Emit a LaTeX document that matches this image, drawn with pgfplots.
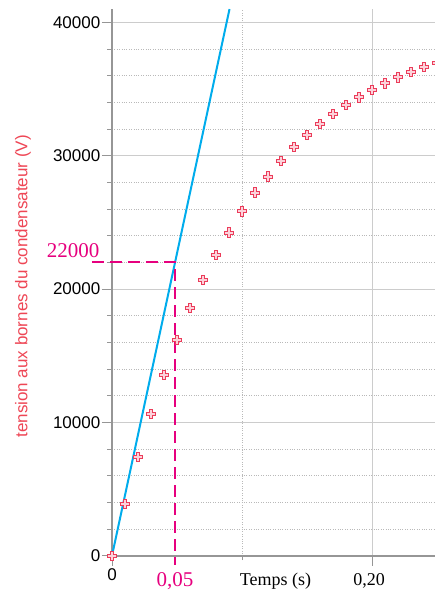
\documentclass[border=0pt]{standalone}
\usepackage{fontspec}
\setmainfont{Liberation Serif}
\setsansfont{Liberation Sans}
\newfontfamily\arial{Liberation Sans}
\usepackage{pgfplots}
\pgfplotsset{compat=1.18}
\definecolor{ptred}{RGB}{235,60,90}
\definecolor{ptfill}{RGB}{252,210,218}
\definecolor{lblred}{RGB}{238,70,85}
\definecolor{mag}{RGB}{230,0,126}
\definecolor{lineblue}{RGB}{0,172,236}
\definecolor{axgray}{RGB}{150,150,150}
\pgfdeclareplotmark{pcross}{%
  \pgfpathmoveto{\pgfqpoint{-1.5pt}{4.6pt}}%
  \pgfpathlineto{\pgfqpoint{1.5pt}{4.6pt}}%
  \pgfpathlineto{\pgfqpoint{1.5pt}{1.5pt}}%
  \pgfpathlineto{\pgfqpoint{4.6pt}{1.5pt}}%
  \pgfpathlineto{\pgfqpoint{4.6pt}{-1.5pt}}%
  \pgfpathlineto{\pgfqpoint{1.5pt}{-1.5pt}}%
  \pgfpathlineto{\pgfqpoint{1.5pt}{-4.6pt}}%
  \pgfpathlineto{\pgfqpoint{-1.5pt}{-4.6pt}}%
  \pgfpathlineto{\pgfqpoint{-1.5pt}{-1.5pt}}%
  \pgfpathlineto{\pgfqpoint{-4.6pt}{-1.5pt}}%
  \pgfpathlineto{\pgfqpoint{-4.6pt}{1.5pt}}%
  \pgfpathlineto{\pgfqpoint{-1.5pt}{1.5pt}}%
  \pgfpathclose
  \pgfusepathqfillstroke
}
\pgfplotstableread{
t U
0 0
0.01 3880
0.02 7420
0.03 10630
0.04 13580
0.05 16180
0.06 18580
0.07 20680
0.08 22550
0.09 24250
0.10 25830
0.11 27250
0.12 28450
0.13 29600
0.14 30680
0.15 31560
0.16 32380
0.17 33130
0.18 33800
0.19 34380
0.20 34930
0.21 35430
0.22 35880
0.23 36280
0.24 36650
0.25 36980
}\mesures
\begin{document}
\begin{tikzpicture}
\begin{axis}[
  scale only axis,
  width=323.05pt, height=546.67pt,
  xmin=0, xmax=0.2485, ymin=0, ymax=41000,
  axis x line=bottom, axis y line=left,
  axis line style={-, draw=axgray, line width=1.8pt},
  every outer x axis line/.append style={-, draw=axgray, line width=1.8pt},
  every outer y axis line/.append style={-, draw=axgray, line width=1.8pt},
  tick align=outside,
  major tick length=10pt, minor tick length=4.5pt,
  every tick/.style={axgray, line width=0.8pt},
  xtick={0,0.2}, xticklabels={0,{}},
  minor xtick={0.1},
  ytick={0,10000,20000,30000,40000},
  minor ytick={2000,4000,6000,8000,12000,14000,16000,18000,22000,24000,26000,28000,32000,34000,36000,38000},
  scaled ticks=false,
  /pgf/number format/assume math mode=true,
  /pgf/number format/1000 sep={},
  tick label style={font=\arial\fontsize{17}{17}\selectfont, text=black},
  yticklabel style={inner sep=1.5pt},
  xticklabel style={inner sep=3pt},
  grid=both,
  major grid style={gray!40, line width=0.7pt},
  minor grid style={gray!55, dotted, line width=0.6pt},
  ylabel={tension aux bornes du condensateur (V)},
  every axis y label/.style={at={(rel axis cs:0,0.5)}, xshift=-89pt, yshift=-4pt, rotate=90, anchor=center,
    font=\arial\fontsize{17}{17}\selectfont, text=lblred},
  clip=false,
]
\addplot[lineblue, line width=2pt] coordinates {(0,0) (0.0904,41000)};
\addplot[mag, line width=2pt, dash pattern=on 12pt off 6pt] coordinates {(-0.0154,22000) (0.0485,22000) (0.0485,-700)};
\addplot[only marks, mark=pcross, mark options={draw=ptred, fill=ptfill, line width=0.6pt}] table[x=t, y=U] {\mesures};
\node[anchor=base east, inner sep=0pt, text=mag, font=\fontsize{21}{21}\selectfont] at (axis cs:-0.0095,22400) {22000};
\node[anchor=base, inner sep=0pt, text=mag, font=\fontsize{21}{21}\selectfont] at (axis cs:0.0485,-2320) {0,05};
\node[anchor=base, inner sep=0pt, font=\fontsize{18}{18}\selectfont] at (axis cs:0.1258,-2250) {Temps (s)};
\node[anchor=base, inner sep=0pt, font=\fontsize{18}{18}\selectfont] at (axis cs:0.1977,-2250) {0,20};
\end{axis}
\pgfresetboundingbox
\path[use as bounding box] (-112pt,-35.3pt) rectangle (323pt,555.7pt);
\end{tikzpicture}
\end{document}
